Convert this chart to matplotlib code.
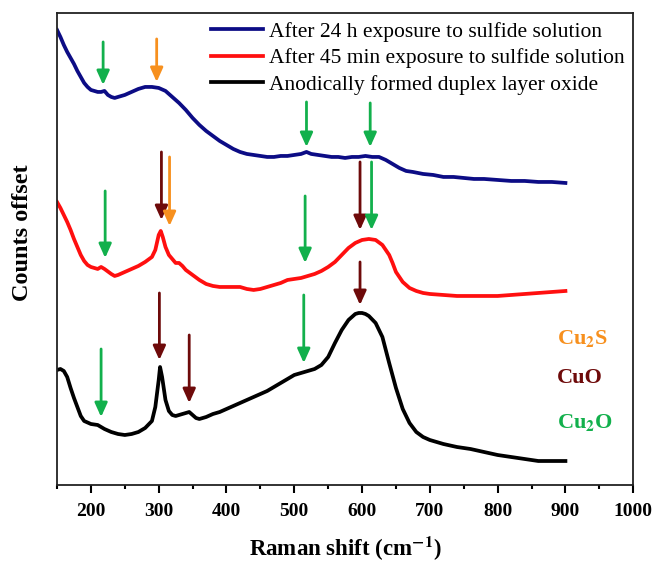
import matplotlib
matplotlib.use("Agg")
import matplotlib.pyplot as plt
from matplotlib.ticker import MultipleLocator

plt.rcParams["font.family"] = ["Liberation Serif", "DejaVu Serif"]
plt.rcParams["mathtext.fontset"] = "stix"

# ---------------------------------------------------------------
# Spectra (y = counts, offset per trace)
# ---------------------------------------------------------------
blue_x = [150, 155, 160, 165, 170, 175, 180, 185, 190, 195, 200, 205, 210, 215,
          220, 225, 230, 235, 240, 250, 260, 270, 280, 290, 300, 310, 320, 330,
          340, 350, 360, 370, 380, 390, 400, 410, 420, 430, 440, 450, 460, 470,
          480, 490, 500, 510, 518, 525, 535, 545, 555, 565, 575, 585, 595, 605,
          615, 625, 635, 645, 655, 665, 675, 690, 705, 720, 735, 750, 765, 780,
          800, 820, 840, 860, 880, 900]
blue_y = [455, 448, 440, 433, 427, 421, 414, 408, 402, 398, 395, 394, 393, 393,
          394, 390, 388, 387, 388, 390, 393, 396, 398, 398, 397, 394, 388, 382,
          375, 367, 360, 354, 349, 344, 340, 336, 333, 331, 330, 329, 328, 328,
          329, 329, 330, 331, 333, 331, 330, 329, 328, 328, 327, 328, 328, 329,
          328, 328, 325, 321, 317, 314, 313, 311, 310, 308, 308, 307, 306, 306,
          305, 304, 304, 303, 303, 302]

red_x = [150, 155, 160, 165, 170, 175, 180, 185, 190, 195, 200, 210, 215, 220,
         230, 235, 240, 250, 260, 270, 280, 290, 295, 300, 303, 306, 310, 315,
         320, 325, 330, 335, 340, 350, 360, 370, 380, 390, 400, 410, 420, 430,
         440, 450, 460, 470, 480, 490, 500, 510, 520, 530, 540, 550, 560, 570,
         580, 590, 600, 610, 620, 630, 640, 645, 650, 660, 670, 680, 690, 700,
         720, 740, 760, 780, 800, 820, 840, 860, 880, 900]
red_y = [283, 277, 270, 263, 255, 246, 238, 230, 224, 220, 218, 216, 218, 216,
         211, 209, 210, 213, 216, 219, 223, 228, 235, 250, 254, 248, 238, 230,
         226, 222, 222, 219, 215, 210, 205, 201, 199, 198, 198, 198, 198, 196,
         195, 196, 198, 200, 202, 205, 206, 207, 209, 211, 214, 218, 223, 230,
         237, 242, 245, 246, 245, 240, 230, 222, 213, 203, 197, 194, 192, 191,
         190, 189, 189, 189, 189, 190, 191, 192, 193, 194]

black_x = [150, 155, 160, 165, 170, 175, 180, 185, 190, 200, 210, 220, 230, 240,
           250, 260, 270, 280, 290, 295, 300, 302, 305, 310, 315, 320, 325, 330,
           340, 345, 350, 355, 360, 370, 380, 390, 400, 410, 420, 430, 440, 450,
           460, 470, 480, 490, 500, 510, 520, 530, 540, 550, 560, 570, 580, 590,
           595, 600, 605, 610, 620, 630, 640, 650, 660, 670, 680, 690, 700, 720,
           740, 760, 780, 800, 820, 840, 860, 880, 900]
black_y = [115, 116, 114, 108, 97, 87, 78, 69, 64, 61, 60, 56, 53, 51,
           50, 51, 53, 57, 64, 78, 105, 118, 108, 85, 74, 70, 69, 70,
           72, 73, 70, 67, 66, 68, 71, 73, 76, 79, 82, 85, 88, 91,
           94, 98, 102, 106, 110, 112, 114, 116, 120, 128, 142, 155, 165, 171,
           172, 172, 171, 169, 162, 148, 122, 97, 76, 62, 53, 48, 45, 41,
           38, 36, 33, 30, 28, 26, 24, 24, 24]

series_labels = ["After 24 h exposure to sulfide solution",
                 "After 45 min exposure to sulfide solution",
                 "Anodically formed duplex layer oxide"]

# peak markers: phase, x position, arrow top, arrow tip
arrow_phase = ["Cu2O", "Cu2S", "Cu2O", "Cu2O",
               "Cu2O", "CuO", "Cu2S", "Cu2O", "CuO", "Cu2O",
               "Cu2O", "CuO", "CuO", "Cu2O", "CuO"]
arrow_x = [218, 297, 518, 612,
           221, 304, 316, 516, 597, 614,
           215, 301, 345, 514, 597]
arrow_top = [443, 446, 383, 382,
             294, 333, 328, 289, 323, 323,
             136, 192, 150, 190, 223]
arrow_tip = [400, 403, 338, 338,
             227, 265, 259, 222, 255, 255,
             68, 125, 82, 122, 180]

phase_names = ["Cu2S", "CuO", "Cu2O"]
phase_text = [r"Cu$_{\mathbf{2}}$S", "CuO", r"Cu$_{\mathbf{2}}$O"]
phase_y = [141, 102, 57]

PHASE_COLORS = {"Cu2S": "#f7901e", "CuO": "#6e0a0a", "Cu2O": "#12b04c"}
LINE_COLORS = ["#0c0c85", "#ff0f0f", "#000000"]


fig = plt.figure(figsize=(6.54, 5.62), dpi=100)
ax = fig.add_axes([0.0872, 0.137, 0.881, 0.840])

for xs, ys, col, lab in zip([blue_x, red_x, black_x], [blue_y, red_y, black_y],
                            LINE_COLORS, series_labels):
    ax.plot(xs, ys, color=col, linewidth=2.7, label=lab, solid_joinstyle="round")

for ph, x, top, tip in zip(arrow_phase, arrow_x, arrow_top, arrow_tip):
    ax.annotate("", xy=(x, tip), xytext=(x, top),
                arrowprops=dict(arrowstyle="-|>,head_length=0.6,head_width=0.27",
                                color=PHASE_COLORS[ph], lw=2.0,
                                shrinkA=0, shrinkB=0, mutation_scale=14))

for ph, txt, y in zip(phase_names, phase_text, phase_y):
    ax.text(888, y, txt, color=PHASE_COLORS[ph], fontsize=16, fontweight="bold",
            ha="left", va="baseline")

ax.set_xlim(150, 1000)
ax.set_ylim(0, 472)
ax.xaxis.set_minor_locator(MultipleLocator(50))
ax.set_yticks([])
ax.set_xticks([200, 300, 400, 500, 600, 700, 800, 900, 1000])
ax.set_xticklabels(["200", "300", "400", "500", "600", "700", "800", "900", "1000"],
                   fontweight="bold")
ax.tick_params(axis="x", which="major", direction="out", length=6, width=1.5,
               labelsize=14, pad=7)
ax.tick_params(axis="x", which="minor", direction="out", length=3, width=1.5)
for sp in ax.spines.values():
    sp.set_linewidth(1.3)
    sp.set_color("#222222")

ax.set_xlabel(r"Raman shift (cm$^{\mathbf{-1}}$)", fontsize=16.5, fontweight="bold",
              labelpad=11)
ax.set_ylabel("Counts offset", fontsize=17.5, fontweight="bold")
ax.yaxis.set_label_coords(-0.042, 0.534)

ax.legend(loc="upper right", frameon=False, fontsize=15.5, handlelength=2.4,
          handletextpad=0.3, labelspacing=0.3, borderaxespad=0.2,
          borderpad=0.2)

fig.savefig("out.png", dpi=100)
